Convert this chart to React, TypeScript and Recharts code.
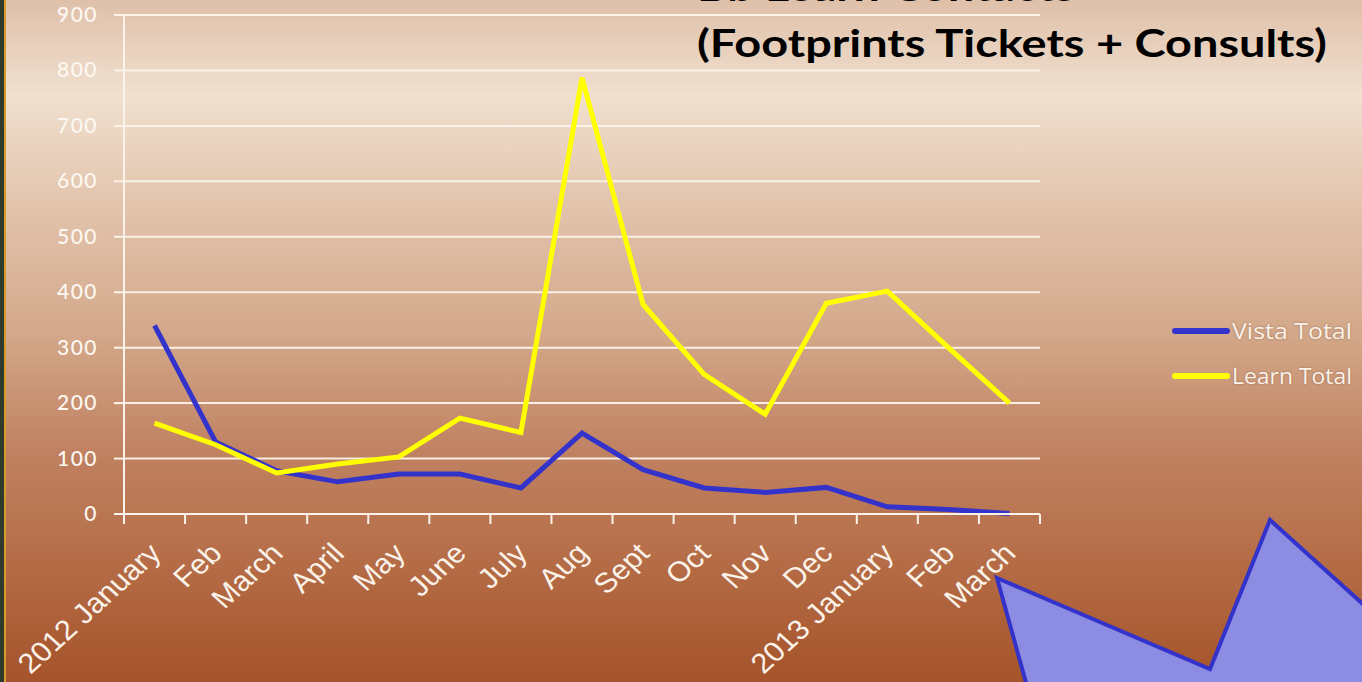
import { CartesianGrid, Line, LineChart, XAxis, YAxis } from "recharts";

const months = [
  "2012 January", "Feb", "March", "April", "May", "June", "July", "Aug",
  "Sept", "Oct", "Nov", "Dec", "2013 January", "Feb ", "March ",
];
const vistaTotal = [340, 130, 78, 58, 72, 72, 47, 146, 80, 47, 39, 48, 13, 8, 1];
const learnTotal = [164, 125, 74, 90, 103, 173, 147, 787, 378, 252, 180, 380, 402, 300, 200];
const yTicks = [0, 100, 200, 300, 400, 500, 600, 700, 800, 900];

const data = months.map((m, i) => ({ month: m, vista: vistaTotal[i], learn: learnTotal[i] }));

const W = 1362;
const H = 682;
const PLOT_LEFT = 124;
const PLOT_RIGHT = 1040;
const HALF_BAND = (PLOT_RIGHT - PLOT_LEFT) / months.length / 2;
const LABEL = "#fbf3ea";

function MonthTick(props: any) {
  const { x, y, payload, index } = props;
  const last = index === months.length - 1;
  return (
    <g>
      <line x1={x - HALF_BAND} x2={x - HALF_BAND} y1={y} y2={y + 10} stroke={LABEL} strokeWidth={2} />
      {last && (
        <line x1={x + HALF_BAND} x2={x + HALF_BAND} y1={y} y2={y + 10} stroke={LABEL} strokeWidth={2} />
      )}
      <g transform={`translate(${x + 8},${y + 41}) scale(1.1,1) rotate(-45)`}>
        <text
          x={0}
          y={0}
          textAnchor="end"
          fill={LABEL}
          fontSize={28}
          fontFamily="'Liberation Sans', Arial, sans-serif"
        >
          {String(payload.value).trim()}
        </text>
      </g>
    </g>
  );
}

function ValueTick(props: any) {
  const { y, payload } = props;
  return (
    <text
      x={98}
      y={y + 7}
      textAnchor="end"
      fill="#fdf8f2"
      fontSize={21}
      fontWeight={500}
      fontFamily="Lato, 'Open Sans', sans-serif"
      letterSpacing={1.5}
    >
      {payload.value}
    </text>
  );
}

function LegendBox() {
  const items = [
    { name: "Vista Total", color: "#3333cc", y: 331 },
    { name: "Learn Total", color: "#ffff00", y: 376 },
  ];
  return (
    <svg width={200} height={100} style={{ position: "absolute", left: 1165, top: 300, overflow: "visible" }}>
      {items.map((it) => (
        <g key={it.name}>
          <line x1={10} x2={62} y1={it.y - 300} y2={it.y - 300} stroke={it.color} strokeWidth={6} strokeLinecap="round" />
          <text
            x={67}
            y={it.y - 300 + 8}
            fill={LABEL}
            fontSize={21}
            fontFamily="'Open Sans', sans-serif"
            textLength={120}
            lengthAdjust="spacingAndGlyphs"
            style={{ textShadow: "0 0 2px rgba(120,70,40,0.6)" }}
          >
            {it.name}
          </text>
        </g>
      ))}
    </svg>
  );
}

export default function App() {
  return (
    <div
      style={{
        position: "fixed",
        left: 0,
        top: 0,
        width: W,
        height: H,
        overflow: "hidden",
        background:
          "linear-gradient(to bottom, #dfc0a9 0px, #f0e0cf 95px, #e3c5ae 200px, #d4a98b 330px, #c08262 450px, #b56d47 560px, #a5532a 682px)",
      }}
    >
      <div style={{ position: "absolute", left: 0, top: 0, width: 4, height: H, background: "#2e3a2c" }} />
      <div style={{ position: "absolute", left: 4, top: 0, width: 2, height: H, background: "#d89a2a" }} />
      <LineChart
        width={W}
        height={H}
        data={data}
        margin={{ top: 15, right: W - PLOT_RIGHT, bottom: 0, left: 0 }}
        style={{ position: "absolute", left: 0, top: 0 }}
      >
        <CartesianGrid horizontal vertical={false} stroke={LABEL} strokeWidth={2} strokeOpacity={0.95} />
        <XAxis
          dataKey="month"
          scale="band"
          interval={0}
          height={H - 514}
          tickLine={false}
          tickSize={0}
          tickMargin={0}
          axisLine={{ stroke: LABEL, strokeWidth: 2 }}
          tick={<MonthTick />}
        />
        <YAxis
          width={PLOT_LEFT}
          domain={[0, 900]}
          ticks={yTicks}
          interval={0}
          tickSize={10}
          tickLine={{ stroke: LABEL, strokeWidth: 2 }}
          axisLine={{ stroke: LABEL, strokeWidth: 2 }}
          tick={<ValueTick />}
        />
        <Line
          type="linear"
          dataKey="vista"
          name="Vista Total"
          stroke="#3333cc"
          strokeWidth={5}
          dot={false}
          isAnimationActive={false}
        />
        <Line
          type="linear"
          dataKey="learn"
          name="Learn Total"
          stroke="#ffff00"
          strokeWidth={5}
          dot={false}
          isAnimationActive={false}
        />
      </LineChart>
      <LegendBox />
      <svg width={W} height={H} style={{ position: "absolute", left: 0, top: 0, pointerEvents: "none" }}>
        <text
          x={697}
          y={1}
          fontSize={38}
          fontWeight={700}
          fontFamily="Lato, 'Open Sans', sans-serif"
          fill="#000"
          textLength={378}
          lengthAdjust="spacingAndGlyphs"
        >
          Bb Learn Contacts
        </text>
        <text
          x={697}
          y={57}
          fontSize={38}
          fontWeight={700}
          fontFamily="Lato, 'Open Sans', sans-serif"
          fill="#000"
          textLength={630}
          lengthAdjust="spacingAndGlyphs"
        >
          (Footprints Tickets + Consults)
        </text>
        <polygon
          points="997,578 1210,669 1270,520 1365,606 1365,690 1028,690"
          fill="#8b8ce2"
          stroke="#3333cc"
          strokeWidth={4}
          strokeLinejoin="miter"
        />
      </svg>
    </div>
  );
}
